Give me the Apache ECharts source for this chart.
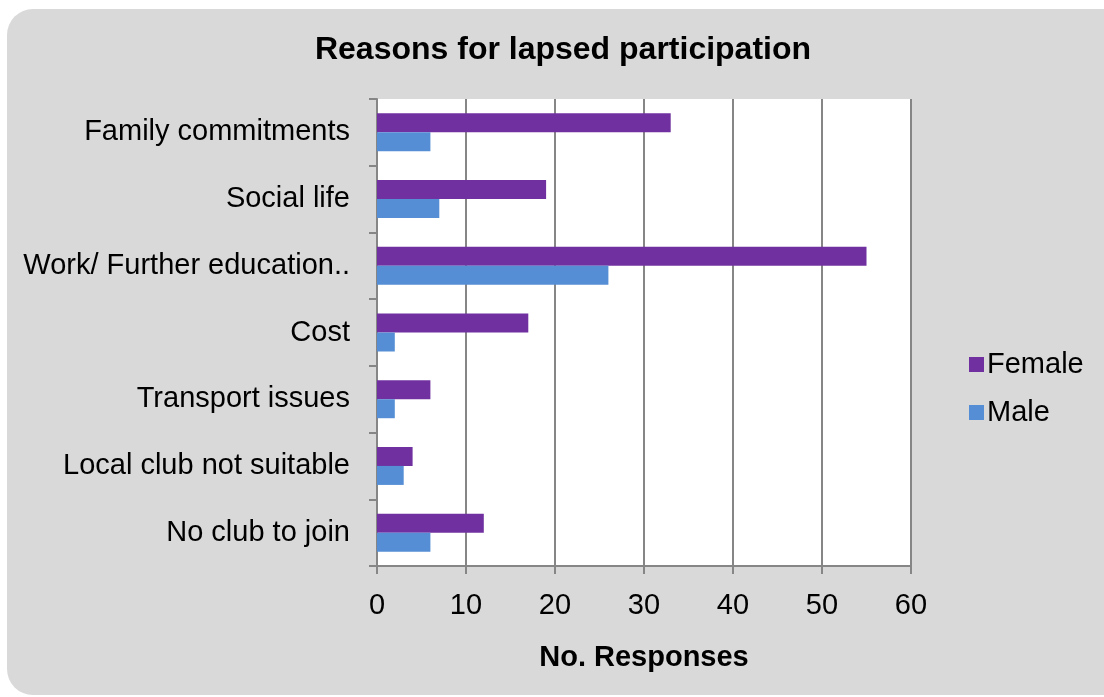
<!DOCTYPE html>
<html>
<head>
<meta charset="utf-8">
<script src="https://cdn.jsdelivr.net/npm/echarts@6/dist/echarts.min.js"></script>
<style>
html,body{margin:0;padding:0;background:#fff;}
#c{width:1104px;height:697px;}
</style>
</head>
<body>
<div id="c"></div>
<script>
const categories = ["Family commitments", "Social life", "Work/ Further education..", "Cost", "Transport issues", "Local club not suitable", "No club to join"];
const female = [33, 19, 55, 17, 6, 4, 12];
const male = [6, 7, 26, 2, 2, 3, 6];
const xTicks = { min: 0, max: 60, interval: 10 };

const chart = echarts.init(document.getElementById('c'), null, { renderer: 'canvas' });
const font = 'Liberation Sans, Arial, sans-serif';
const gridColor = '#868686';
chart.setOption({
  animation: false,
  textStyle: { fontFamily: font },
  graphic: [{
    type: 'rect', z: -10, silent: true,
    shape: { x: 7, y: 9, width: 1130, height: 686, r: 26 },
    style: { fill: '#d9d9d9' }
  }, {
    type: 'rect', z: -9, silent: true,
    shape: { x: 377, y: 99, width: 534, height: 467 },
    style: { fill: '#ffffff' }
  }],
  title: {
    text: 'Reasons for lapsed participation',
    left: 558, top: 29, textAlign: 'center',
    textStyle: { fontFamily: font, fontSize: 32, fontWeight: 'bold', color: '#000' }
  },
  legend: {
    orient: 'vertical',
    left: 964, top: 345,
    itemWidth: 15, itemHeight: 15, itemGap: 19,
    icon: 'rect',
    textStyle: { fontFamily: font, fontSize: 29, color: '#000', padding: [0, 0, 0, -2] },
    data: ['Female', 'Male']
  },
  grid: { left: 377, top: 99, width: 534, height: 467, containLabel: false },
  xAxis: {
    type: 'value',
    min: xTicks.min, max: xTicks.max, interval: xTicks.interval,
    name: 'No. Responses', nameLocation: 'middle', nameGap: 77,
    nameTextStyle: { fontFamily: font, fontSize: 29, fontWeight: 'bold', color: '#000' },
    axisLine: { show: true, lineStyle: { color: gridColor, width: 2 } },
    axisTick: { show: true, length: 8, lineStyle: { color: gridColor, width: 2 } },
    axisLabel: { fontFamily: font, fontSize: 29, color: '#000', margin: 25 },
    splitLine: { show: true, lineStyle: { color: gridColor, width: 2 } }
  },
  yAxis: {
    type: 'category', data: categories, inverse: true,
    axisLine: { show: true, lineStyle: { color: gridColor, width: 2 } },
    axisTick: { show: true, length: 8, lineStyle: { color: gridColor, width: 2 } },
    axisLabel: { fontFamily: font, fontSize: 29, color: '#000', margin: 27 },
    splitLine: { show: false }
  },
  series: [{
    name: 'Female', type: 'bar', data: female,
    barWidth: 19, barGap: '0%',
    itemStyle: { color: '#7030a0' }
  }, {
    name: 'Male', type: 'bar', data: male,
    barWidth: 19, barGap: '0%',
    itemStyle: { color: '#558ed5' }
  }]
});
</script>
</body>
</html>
